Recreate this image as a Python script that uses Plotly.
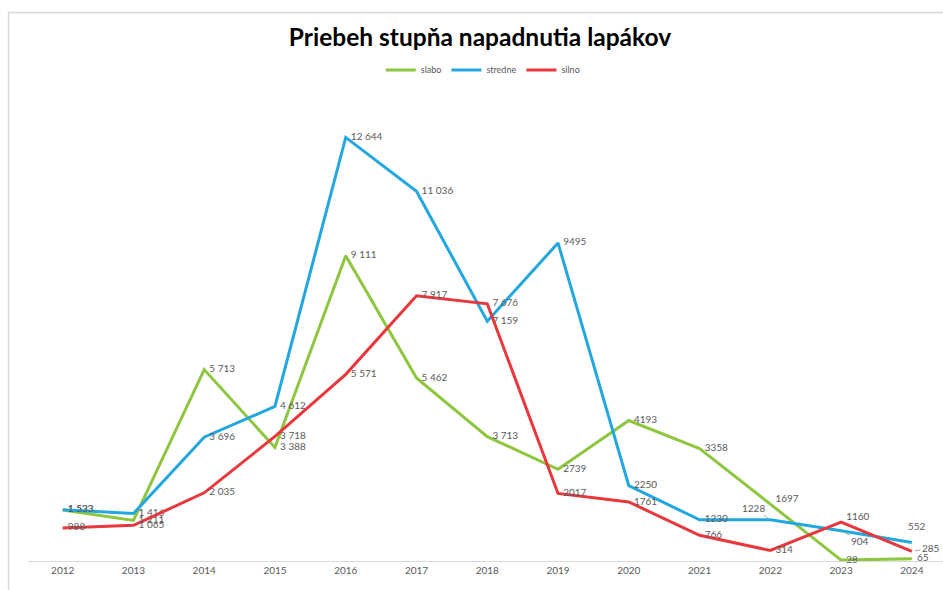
import plotly.graph_objects as go

years = ["2012", "2013", "2014", "2015", "2016", "2017", "2018", "2019", "2020", "2021", "2022", "2023", "2024"]
slabo = [1523, 1211, 5713, 3388, 9111, 5462, 3713, 2739, 4193, 3358, 1697, 28, 65]
stredne = [1533, 1416, 3696, 4612, 12644, 11036, 7159, 9495, 2250, 1230, 1228, 904, 552]
silno = [988, 1065, 2035, 3718, 5571, 7917, 7676, 2017, 1761, 766, 314, 1160, 285]

series = [("slabo", slabo, "#8DC63F"), ("stredne", stredne, "#22A7DE"), ("silno", silno, "#E8383D")]

def fmt(v, year):
    if int(year) < 2019:
        return f"{v:,}".replace(",", " ")
    return str(v)

FONT = "Lato, 'Open Sans', sans-serif"
LABEL_FONT = dict(family=FONT, size=10, color="#595959")

pos_slabo = ["middle right"] * 13
pos_slabo[10] = "top right"
pos_stredne = ["middle right"] * 13
pos_silno = ["middle right"] * 13
pos_silno[11] = "top right"
positions = {"slabo": pos_slabo, "stredne": pos_stredne, "silno": pos_silno}

# points labelled by annotations (with leader lines) instead
leader = {("stredne", 10): (-17, -12, True), ("stredne", 11): (19, 10, True),
          ("stredne", 12): (5, -17, False), ("silno", 12): (19, -3, True)}

PAD = "\u00a0\u00a0"

fig = go.Figure()
for name, vals, col in series:
    texts = []
    for i, (v, y) in enumerate(zip(vals, years)):
        texts.append("" if (name, i) in leader else PAD + fmt(v, y))
    fig.add_trace(go.Scatter(
        x=years, y=vals, name=name, mode="lines+text",
        line=dict(color=col, width=3),
        text=texts, textposition=positions[name], textfont=LABEL_FONT,
        cliponaxis=False, hoverinfo="x+y",
    ))

lookup = {n: v for n, v, c in series}
for (name, i), (ax, ay, arrow) in leader.items():
    vals = lookup[name]
    fig.add_annotation(
        x=i, y=vals[i], xref="x", yref="y", text=fmt(vals[i], years[i]),
        showarrow=True, arrowhead=0, arrowwidth=1,
        arrowcolor="#A6A6A6" if arrow else "rgba(0,0,0,0)",
        ax=ax, ay=ay, font=LABEL_FONT, standoff=3,
    )

# frame lines (top and left edge of the chart area)
fig.add_shape(type="line", xref="paper", yref="paper", x0=-0.0213, x1=1.02, y0=1.1695, y1=1.1695,
              line=dict(color="#D9D9D9", width=1.5))
fig.add_shape(type="line", xref="paper", yref="paper", x0=-0.0213, x1=-0.0213, y0=-0.07, y1=1.1695,
              line=dict(color="#D9D9D9", width=1.5))

fig.update_layout(
    width=943, height=590,
    paper_bgcolor="white", plot_bgcolor="white",
    margin=dict(l=28, r=0, t=92, b=29, autoexpand=False),
    title=dict(text="<b>Priebeh stupňa napadnutia lapákov</b>", x=0.509, xanchor="center",
               y=0.936, yanchor="middle",
               font=dict(family=FONT, size=24.5, color="#000000")),
    legend=dict(orientation="h", x=0.497, xanchor="center", y=1.047, yanchor="middle",
                font=dict(family=FONT, size=9, color="#595959"),
                itemwidth=30, bgcolor="rgba(0,0,0,0)"),
    xaxis=dict(type="category", range=[-0.49, 12.44], showgrid=False, zeroline=False,
               showline=True, linecolor="#D9D9D9", linewidth=1, ticks="", automargin=False,
               tickfont=dict(family=FONT, size=10, color="#595959")),
    yaxis=dict(range=[0, 14000], showgrid=False, zeroline=False, showticklabels=False,
               showline=False, automargin=False),
    showlegend=True,
)

fig.write_html("out.html", config={"displayModeBar": False},
               post_script="document.body.style.margin='0';document.body.style.overflow='hidden';")
